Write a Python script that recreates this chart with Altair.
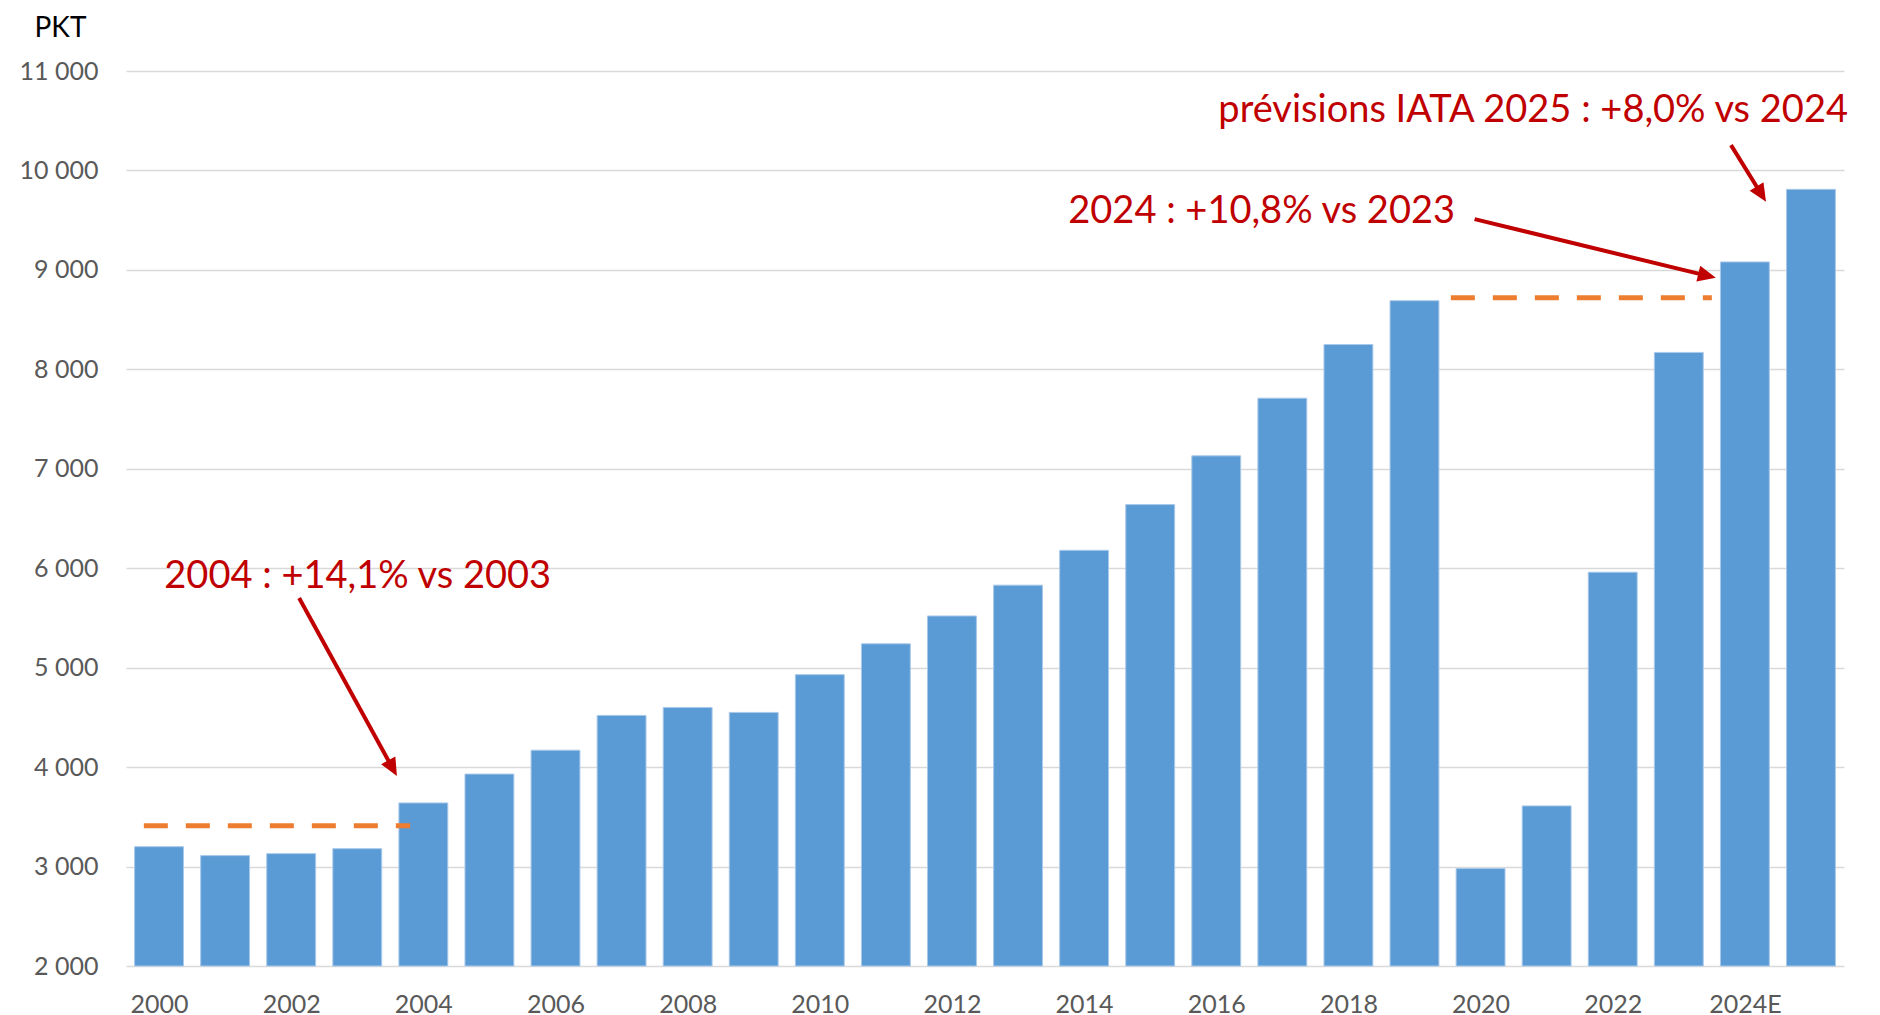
import math
import altair as alt
import pandas as pd

# ---------------- data ----------------
categories = [
    "2000", "2001", "2002", "2003", "2004", "2005", "2006", "2007", "2008", "2009",
    "2010", "2011", "2012", "2013", "2014", "2015", "2016", "2017", "2018", "2019",
    "2020", "2021", "2022", "2023", "2024E", "2025E",
]
pkt = [
    3200, 3110, 3130, 3180, 3640, 3930, 4170, 4520, 4600, 4550,
    4930, 5240, 5520, 5830, 6180, 6640, 7130, 7710, 8250, 8690,
    2980, 3610, 5960, 8170, 9080, 9810,
]
shown_ticks = [0, 2, 4, 6, 8, 10, 12, 14, 16, 18, 20, 22, 24]
y_ticks = [2000, 3000, 4000, 5000, 6000, 7000, 8000, 9000, 10000, 11000]

# reference (dashed) levels: start index, end index, value
ref_x0 = [-0.23, 19.55]
ref_x1 = [3.80, 23.50]
ref_y = [3410, 8720]

# annotations (index position, value)
ann_left_text = ["2004 : +14,1% vs 2003", "2024 : +10,8% vs 2023"]
ann_left_x = [0.08, 13.76]
ann_left_y = [5910, 9580]
ann_right_text = ["prévisions IATA 2025 : +8,0% vs 2024"]
ann_right_x = [25.56]
ann_right_y = [10595]

arrow_x0 = [2.12, 19.91, 23.79]
arrow_y0 = [5700, 9510, 10255]
arrow_x1 = [3.60, 23.56, 24.32]
arrow_y1 = [3910, 8920, 9685]

# ---------------- layout ----------------
W, H = 1718, 895
XDOM = [-0.5, 25.5]
YDOM = [2000, 11000]
px_x = W / (XDOM[1] - XDOM[0])
px_y = H / (YDOM[1] - YDOM[0])
FONT = "Lato"
RED = "#C00000"

bars = pd.DataFrame({"i": list(range(len(categories))), "cat": categories, "pkt": pkt})
refs = pd.DataFrame({"x0": ref_x0, "x1": ref_x1, "y": ref_y})
ann_l = pd.DataFrame({"t": ann_left_text, "x": ann_left_x, "y": ann_left_y})
ann_r = pd.DataFrame({"t": ann_right_text, "x": ann_right_x, "y": ann_right_y})

# arrows: shaft slightly shortened so the head covers its end, head rotated along the shaft
HEAD = 18.0
rows = []
for xa, ya, xb, yb in zip(arrow_x0, arrow_y0, arrow_x1, arrow_y1):
    dx = (xb - xa) * px_x
    dy = -(yb - ya) * px_y
    L = math.hypot(dx, dy)
    f = (L - HEAD * 0.7) / L
    ang = math.degrees(math.atan2(dx, -dy)) % 360
    rows.append({
        "x0": xa, "y0": ya,
        "xs": xa + (xb - xa) * f, "ys": ya + (yb - ya) * f,
        "x1": xb, "y1": yb, "ang": ang,
    })
arrows = pd.DataFrame(rows)

labels_js = "[" + ",".join("'%s'" % c for c in categories) + "]"

xscale = alt.Scale(domain=XDOM, nice=False, zero=False)
yscale = alt.Scale(domain=YDOM, nice=False, zero=False)

xaxis = alt.Axis(
    values=shown_ticks, labelExpr=labels_js + "[datum.value]",
    grid=False, ticks=False, domain=False, labelFont=FONT, labelFontSize=25,
    labelColor="#595959", labelPadding=26, labelBaseline="top", title=None)
yaxis = alt.Axis(
    values=y_ticks, labelExpr="replace(format(datum.value, ','), ',', ' ')",
    grid=True, gridColor="#D9D9D9", gridWidth=1.5, ticks=False, domain=False,
    labelFont=FONT, labelFontSize=25, labelColor="#595959", labelPadding=28,
    title="PKT", titleAngle=0, titleX=-66, titleY=-43, titleAlign="center",
    titleBaseline="middle", titleFont=FONT, titleFontSize=28,
    titleFontWeight="normal", titleColor="#000000")


def X(f):
    return alt.X(f, scale=xscale, axis=xaxis)


def Y(f):
    return alt.Y(f, scale=yscale, axis=yaxis)


bar_layer = alt.Chart(bars).transform_calculate(
    a="datum.i - 0.37", b="datum.i + 0.37"
).mark_bar(color="#5B9BD5", stroke="#A9C9EA", strokeWidth=1).encode(
    x=X("a:Q"), x2="b:Q",
    y=Y("pkt:Q"), y2=alt.datum(2000),
)

ref_layer = alt.Chart(refs).mark_rule(
    color="#ED7D31", strokeWidth=5, strokeDash=[24, 18]
).encode(x=X("x0:Q"), x2="x1:Q", y=Y("y:Q"))

shaft_layer = alt.Chart(arrows).mark_rule(color=RED, strokeWidth=4).encode(
    x=X("x0:Q"), x2="xs:Q", y=Y("y0:Q"), y2="ys:Q",
)

head_layer = alt.Chart(arrows).mark_point(
    shape="M0,0 L-0.45,1 L0.45,1 Z", filled=True, color=RED, opacity=1,
    size=HEAD * HEAD * 4,
).encode(
    x=X("x1:Q"), y=Y("y1:Q"),
    angle=alt.Angle("ang:Q", scale=None),
)

text_l = alt.Chart(ann_l).mark_text(
    align="left", baseline="middle", font=FONT, fontSize=38, color=RED
).encode(x=X("x:Q"), y=Y("y:Q"), text="t:N")

text_r = alt.Chart(ann_r).mark_text(
    align="right", baseline="middle", font=FONT, fontSize=38, color=RED
).encode(x=X("x:Q"), y=Y("y:Q"), text="t:N")

chart = alt.layer(
    bar_layer, ref_layer, shaft_layer, head_layer, text_l, text_r
).properties(
    width=W, height=H,
    autosize=alt.AutoSizeParams(type="none"),
    padding={"left": 118, "top": 63, "right": 20, "bottom": 50},
).configure_view(stroke=None)

chart.save("out.html", embed_options={"renderer": "svg", "actions": False})
